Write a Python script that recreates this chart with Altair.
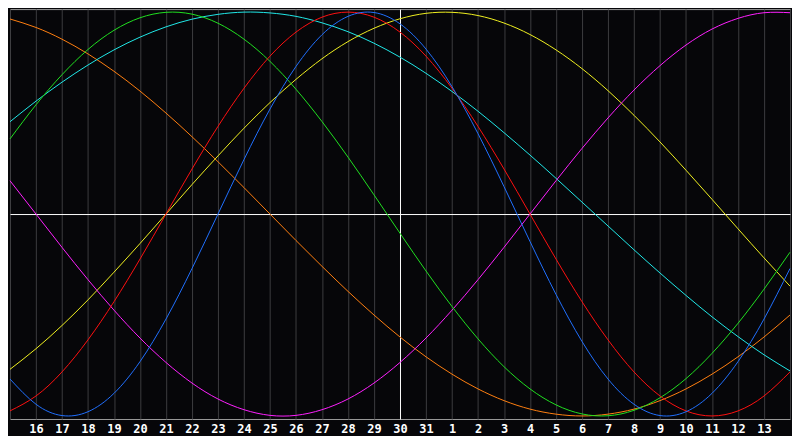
import altair as alt

day_labels = ["", "16", "17", "18", "19", "20", "21", "22", "23", "24", "25", "26", "27",
              "28", "29", "30", "31", "1", "2", "3", "4", "5", "6", "7", "8", "9", "10",
              "11", "12", "13", ""]
days = list(range(31))

blue = [-0.817, -0.942, -0.998, -0.979, -0.888, -0.731, -0.520, -0.270, 0.0, 0.270, 0.520,
        0.731, 0.888, 0.979, 0.998, 0.942, 0.817, 0.631, 0.398, 0.136, -0.136, -0.398,
        -0.631, -0.817, -0.942, -0.998, -0.979, -0.888, -0.731, -0.520, -0.270]
red = [-0.975, -0.901, -0.782, -0.623, -0.434, -0.223, 0.0, 0.223, 0.434, 0.623, 0.782,
       0.901, 0.975, 1.000, 0.975, 0.901, 0.782, 0.623, 0.434, 0.223, 0.0, -0.223, -0.434,
       -0.623, -0.782, -0.901, -0.975, -1.000, -0.975, -0.901, -0.782]
green = [0.372, 0.541, 0.690, 0.815, 0.910, 0.972, 0.999, 0.990, 0.945, 0.866, 0.756, 0.618,
         0.458, 0.282, 0.095, -0.095, -0.282, -0.458, -0.618, -0.756, -0.866, -0.945,
         -0.990, -0.999, -0.972, -0.910, -0.815, -0.690, -0.541, -0.372, -0.189]
magenta = [0.165, 0.0, -0.165, -0.325, -0.476, -0.614, -0.735, -0.837, -0.916, -0.969,
           -0.997, -0.997, -0.969, -0.916, -0.837, -0.735, -0.614, -0.476, -0.325, -0.165,
           0.0, 0.165, 0.325, 0.476, 0.614, 0.735, 0.837, 0.916, 0.969, 0.997, 0.997]
yellow = [-0.769, -0.667, -0.552, -0.425, -0.288, -0.146, 0.0, 0.146, 0.288, 0.425, 0.552,
          0.667, 0.769, 0.854, 0.920, 0.967, 0.994, 0.999, 0.983, 0.946, 0.889, 0.813,
          0.720, 0.611, 0.489, 0.357, 0.217, 0.073, -0.073, -0.217, -0.357]
orange = [0.966, 0.924, 0.866, 0.793, 0.707, 0.609, 0.500, 0.383, 0.259, 0.131, 0.0, -0.131,
          -0.259, -0.383, -0.500, -0.609, -0.707, -0.793, -0.866, -0.924, -0.966, -0.991,
          -1.000, -0.991, -0.966, -0.924, -0.866, -0.793, -0.707, -0.609, -0.500]
cyan = [0.457, 0.559, 0.653, 0.738, 0.813, 0.876, 0.927, 0.965, 0.989, 1.000, 0.996, 0.979,
        0.947, 0.903, 0.846, 0.777, 0.697, 0.607, 0.509, 0.403, 0.292, 0.177, 0.059, -0.059,
        -0.177, -0.292, -0.403, -0.509, -0.607, -0.697, -0.777]

series = {"orange": orange, "cyan": cyan, "yellow": yellow, "magenta": magenta,
          "green": green, "red": red, "blue": blue}
colors = {"orange": "#ff7f10", "cyan": "#20e8e8", "yellow": "#f0f020", "magenta": "#ff20ff",
          "green": "#20e020", "red": "#ff1010", "blue": "#2070ff"}

rows = []
for name, vals in series.items():
    for d, v in zip(days, vals):
        rows.append({"day": int(d), "value": float(v), "series": str(name)})

label_expr = "[" + ",".join("'" + s + "'" for s in day_labels) + "][datum.value]"

lines = alt.Chart(alt.Data(values=rows)).mark_line(strokeWidth=1, interpolate="natural").encode(
    x=alt.X("day:Q", scale=alt.Scale(domain=[0, 30], nice=False, zero=False),
            axis=alt.Axis(values=days, labelExpr=label_expr, grid=True,
                          gridColor=alt.condition("datum.value == 15",
                                                  alt.value("#ffffff"),
                                                  alt.value("#3c3c40")),
                          domain=False, ticks=False,
                          labelColor="white", labelFont="DejaVu Sans Mono",
                          labelFontWeight="bold", labelFontSize=12, labelPadding=5,
                          labelOverlap=False, labelFlush=False, title=None)),
    y=alt.Y("value:Q", scale=alt.Scale(domain=[-1.015, 1.015], nice=False, zero=False),
            axis=alt.Axis(values=[0], grid=True, gridColor="#ffffff", labels=False,
                          ticks=False, domain=False, title=None)),
    color=alt.Color("series:N", scale=alt.Scale(domain=list(colors.keys()),
                                                range=list(colors.values())), legend=None),
).properties(width=784, height=412, background="#060609", padding=0)

chart = lines.configure_view(stroke="#9a9a9a", strokeWidth=1, fill="#060609")

chart.save("out.html", embed_options={"renderer": "svg", "actions": False})
